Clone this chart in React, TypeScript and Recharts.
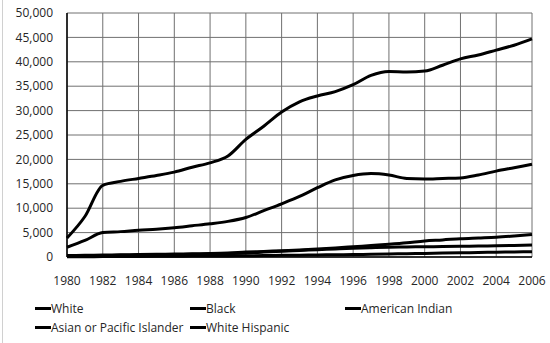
import React from "react";
import { LineChart, Line, XAxis, YAxis, CartesianGrid } from "recharts";

const years = [1980,1981,1982,1983,1984,1985,1986,1987,1988,1989,1990,1991,1992,1993,1994,1995,1996,1997,1998,1999,2000,2001,2002,2003,2004,2005,2006];
const white = [3900,8300,14700,15500,16100,16700,17400,18400,19300,20700,24100,26800,29700,31800,33000,33900,35300,37200,38000,37900,38100,39300,40600,41400,42400,43400,44700];
const black = [2000,3400,5000,5200,5500,5700,6000,6400,6800,7300,8100,9500,10900,12400,14200,15800,16700,17100,16800,16100,16000,16100,16200,16800,17600,18300,19000];
const americanIndian = [50,60,80,100,120,140,160,180,200,230,260,300,340,380,420,460,500,560,620,680,740,800,860,920,980,1040,1100];
const asianPacific = [200,250,300,350,400,450,500,550,600,700,800,1000,1200,1350,1500,1650,1800,1900,2000,2050,2100,2150,2200,2250,2300,2350,2450];
const whiteHispanic = [300,350,400,450,500,550,600,650,700,800,1000,1150,1300,1450,1650,1850,2100,2350,2600,2900,3300,3500,3750,3900,4050,4300,4600];

const xTicks = [1980,1982,1984,1986,1988,1990,1992,1994,1996,1998,2000,2002,2004,2006];
const yTicks = [0,5000,10000,15000,20000,25000,30000,35000,40000,45000,50000];

const seriesNames = ["White", "Black", "American Indian", "Asian or Pacific Islander", "White Hispanic"];
const seriesKeys = ["white", "black", "americanIndian", "asianPacific", "whiteHispanic"];

const data = years.map((y, i) => ({
  year: y,
  white: white[i],
  black: black[i],
  americanIndian: americanIndian[i],
  asianPacific: asianPacific[i],
  whiteHispanic: whiteHispanic[i],
}));

const font = "'Open Sans', sans-serif";
const textColor = "#262626";

export default function App() {
  return (
    <div style={{ position: "absolute", left: 0, top: 0, width: 550, height: 343, background: "#fff", fontFamily: font }}>
      <div style={{ position: "absolute", left: 2, top: 0, width: 1, height: 343, background: "#d0d0d0" }} />
      <LineChart width={550} height={343} data={data} margin={{ top: 13, right: 18, bottom: 56, left: 0 }}>
        <CartesianGrid stroke="#707070" strokeWidth={1} />
        <XAxis
          dataKey="year"
          type="number"
          domain={[1980, 2006]}
          ticks={xTicks}
          interval={0}
          height={30}
          tickSize={0}
          tickMargin={19}
          axisLine={{ stroke: "#000", strokeWidth: 1.5 }}
          tick={{ fill: textColor, fontSize: 12, fontFamily: font }}
        />
        <YAxis
          domain={[0, 50000]}
          ticks={yTicks}
          interval={0}
          width={67}
          tickSize={0}
          tickMargin={14}
          axisLine={{ stroke: "#000", strokeWidth: 1.5 }}
          tick={{ fill: textColor, fontSize: 12, fontFamily: font }}
          tickFormatter={(v: number) => v.toLocaleString("en-US")}
        />
        {seriesKeys.map((k, i) => (
          <Line
            key={k}
            dataKey={k}
            name={seriesNames[i]}
            type="monotone"
            stroke="#000"
            strokeWidth={3}
            dot={false}
            isAnimationActive={false}
          />
        ))}
      </LineChart>
      <div
        style={{
          position: "absolute",
          left: 35,
          top: 300,
          width: 480,
          display: "flex",
          flexWrap: "wrap",
          rowGap: 2,
          fontSize: 12,
          color: textColor,
          lineHeight: "17px",
        }}
      >
        {seriesNames.map((n) => (
          <div key={n} style={{ display: "flex", alignItems: "center", minWidth: 155, whiteSpace: "nowrap" }}>
            <span style={{ display: "inline-block", width: 16, height: 3, background: "#000" }} />
            <span>{n}</span>
          </div>
        ))}
      </div>
    </div>
  );
}
